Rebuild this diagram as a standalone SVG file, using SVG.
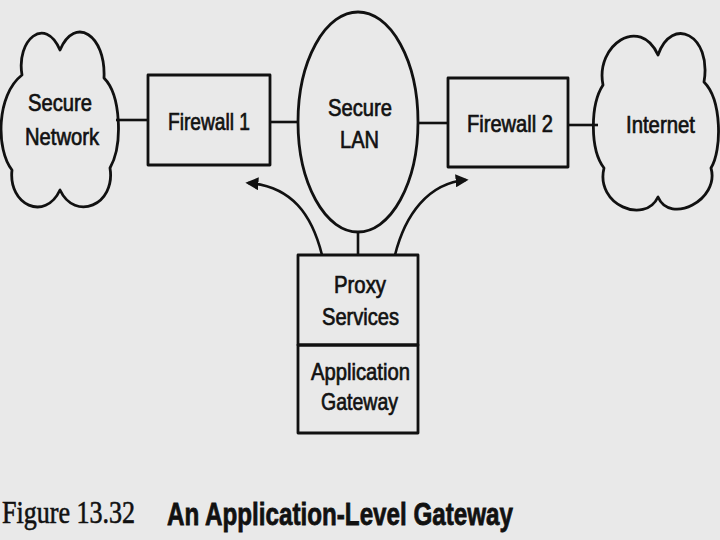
<svg xmlns="http://www.w3.org/2000/svg" width="720" height="540" viewBox="0 0 720 540">
  <defs>
    <style>
      .shape { fill: none; stroke: #111; stroke-width: 2.8; stroke-linejoin: round; }
      .line { fill: none; stroke: #111; stroke-width: 2.6; }
      .lbl { font-family: "Liberation Sans", Arial, sans-serif; font-size: 24px; fill: #111; stroke: #111; stroke-width: 0.7; text-anchor: middle; }
      .fig { font-family: "Liberation Serif", "Times New Roman", serif; font-size: 31px; fill: #111; stroke: #111; stroke-width: 0.6; }
      .title { font-family: "Liberation Sans", Arial, sans-serif; font-weight: bold; font-size: 32px; fill: #111; stroke: #111; stroke-width: 0.8; }
    </style>
    <marker id="arrow" viewBox="0 0 10 10" refX="8" refY="5" markerWidth="5" markerHeight="5" orient="auto" markerUnits="strokeWidth">
      <path d="M0,0 L10,5 L0,10 Z" fill="#111"/>
    </marker>
  </defs>
  <rect x="0" y="0" width="720" height="540" fill="#e9e9e9"/>

  <g id="connectors">
    <line class="line" x1="116" y1="120" x2="148" y2="120"/>
    <line class="line" x1="270" y1="122" x2="299" y2="122"/>
    <line class="line" x1="418" y1="123" x2="448" y2="123"/>
    <line class="line" x1="568" y1="125" x2="598" y2="125"/>
    <line class="line" x1="358" y1="232" x2="358" y2="255"/>
    <path class="line" d="M322,255 C312,215 292,186 248,183" marker-end="url(#arrow)"/>
    <path class="line" d="M395,255 C405,215 428,183 466,180" marker-end="url(#arrow)"/>
  </g>

  <g id="secure-network">
    <path class="shape" d="M22,75 C16,40 45,15 60,50 C75,15 106,35 104,78 C121,95 123,145 110,168 C116,205 75,222 60,190 C45,222 8,205 12,170 C-4,150 -4,95 22,75 Z"/>
    <text class="lbl" x="60" y="111" textLength="64" lengthAdjust="spacingAndGlyphs">Secure</text>
    <text class="lbl" x="62" y="145" textLength="74" lengthAdjust="spacingAndGlyphs">Network</text>
  </g>

  <g id="firewall-1">
    <rect class="shape" x="148" y="75" width="122" height="90"/>
    <text class="lbl" x="209" y="130" textLength="82" lengthAdjust="spacingAndGlyphs">Firewall 1</text>
  </g>

  <g id="secure-lan">
    <ellipse class="shape" cx="358" cy="122" rx="60" ry="110"/>
    <text class="lbl" x="360" y="116" textLength="64" lengthAdjust="spacingAndGlyphs">Secure</text>
    <text class="lbl" x="359.5" y="148" textLength="39" lengthAdjust="spacingAndGlyphs">LAN</text>
  </g>

  <g id="firewall-2">
    <rect class="shape" x="448" y="78" width="120" height="89"/>
    <text class="lbl" x="510" y="132" textLength="86" lengthAdjust="spacingAndGlyphs">Firewall 2</text>
  </g>

  <g id="internet">
    <path class="shape" d="M603,85 C595,45 640,15 658,55 C672,15 712,35 704,82 C722,100 722,150 711,168 C720,200 670,225 658,197 C645,225 595,205 604,168 C590,150 590,105 603,85 Z"/>
    <text class="lbl" x="660.5" y="133" textLength="69" lengthAdjust="spacingAndGlyphs">Internet</text>
  </g>

  <g id="proxy-services">
    <rect class="shape" x="298" y="255" width="120" height="90"/>
    <text class="lbl" x="360" y="293" textLength="52" lengthAdjust="spacingAndGlyphs">Proxy</text>
    <text class="lbl" x="360.5" y="325" textLength="77" lengthAdjust="spacingAndGlyphs">Services</text>
  </g>

  <g id="application-gateway">
    <rect class="shape" x="298" y="345" width="120" height="88"/>
    <text class="lbl" x="360.5" y="380" textLength="99" lengthAdjust="spacingAndGlyphs">Application</text>
    <text class="lbl" x="359.5" y="410" textLength="77" lengthAdjust="spacingAndGlyphs">Gateway</text>
  </g>

  <g id="caption">
    <text class="fig" x="2" y="523" textLength="133" lengthAdjust="spacingAndGlyphs">Figure 13.32</text>
    <text class="title" x="167" y="525" textLength="346" lengthAdjust="spacingAndGlyphs">An Application-Level Gateway</text>
  </g>
</svg>
